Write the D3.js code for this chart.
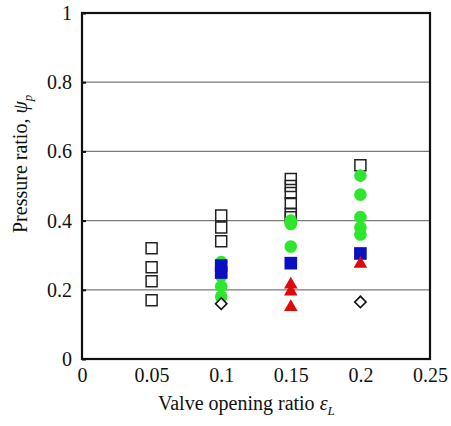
<!DOCTYPE html>
<html>
<head>
<meta charset="utf-8">
<script src="https://cdn.jsdelivr.net/npm/d3@7"></script>
<style>
  html, body { margin: 0; padding: 0; background: #fff; }
  svg text { font-family: "Liberation Serif", "DejaVu Serif", serif !important; fill: #111; }
</style>
</head>
<body>
<svg id="chart" width="451" height="426"></svg>
<script>
// Valve opening ratio positions and measured pressure ratios per condition
const openSquareX = [0.05, 0.05, 0.05, 0.05, 0.1, 0.1, 0.1, 0.15, 0.15, 0.15, 0.15, 0.15, 0.15, 0.2];
const openSquareY = [0.32, 0.265, 0.225, 0.17, 0.415, 0.38, 0.34, 0.52, 0.50, 0.48, 0.45, 0.42, 0.41, 0.56];

const greenX = [0.1, 0.1, 0.1, 0.1, 0.15, 0.15, 0.15, 0.2, 0.2, 0.2, 0.2, 0.2];
const greenY = [0.28, 0.24, 0.21, 0.18, 0.40, 0.39, 0.325, 0.53, 0.475, 0.41, 0.38, 0.36];

const blueX = [0.1, 0.1, 0.15, 0.2];
const blueY = [0.27, 0.25, 0.277, 0.305];

const redX = [0.15, 0.15, 0.15, 0.2];
const redY = [0.215, 0.195, 0.15, 0.275];

const diamondX = [0.1, 0.2];
const diamondY = [0.16, 0.165];

const xTicks = [0, 0.05, 0.1, 0.15, 0.2, 0.25];
const xTickLabels = ["0", "0.05", "0.1", "0.15", "0.2", "0.25"];
const yTicks = [0, 0.2, 0.4, 0.6, 0.8, 1];
const yTickLabels = ["0", "0.2", "0.4", "0.6", "0.8", "1"];

const margin = { left: 82, top: 13, right: 21, bottom: 67 };
const W = 451, H = 426;
const iw = W - margin.left - margin.right;
const ih = H - margin.top - margin.bottom;
const serif = "'Liberation Serif', 'DejaVu Serif', serif";

const svg = d3.select("#chart");
const g = svg.append("g").attr("transform", `translate(${margin.left},${margin.top})`);

const x = d3.scaleLinear().domain([0, 0.25]).range([0, iw]);
const y = d3.scaleLinear().domain([0, 1]).range([ih, 0]);

// horizontal grid lines
g.append("g").selectAll("line")
  .data(yTicks.filter(v => v > 0 && v < 1))
  .join("line")
  .attr("x1", 0).attr("x2", iw)
  .attr("y1", d => y(d)).attr("y2", d => y(d))
  .attr("stroke", "#7a7a7a").attr("stroke-width", 1.2);

// y axis ticks + labels
const yAxis = d3.axisLeft(y).tickValues(yTicks)
  .tickFormat((d, i) => yTickLabels[i]).tickSizeInner(-4).tickSizeOuter(0).tickPadding(10);
const yg = g.append("g").call(yAxis).attr("font-family", null);
yg.select(".domain").remove();
yg.selectAll(".tick line").attr("stroke", "#111").attr("stroke-width", 2);
yg.selectAll(".tick text").attr("font-size", 20).attr("fill", "#111")
  .style("font-family", serif);

// x axis labels
const xAxis = d3.axisBottom(x).tickValues(xTicks)
  .tickFormat((d, i) => xTickLabels[i]).tickSize(0).tickPadding(9);
const xg = g.append("g").attr("transform", `translate(0,${ih})`).call(xAxis).attr("font-family", null);
xg.select(".domain").remove();
xg.selectAll(".tick text").attr("font-size", 20).attr("fill", "#111")
  .style("font-family", serif);

// plot frame
g.append("rect").attr("x", 0).attr("y", 0).attr("width", iw).attr("height", ih)
  .attr("fill", "none").attr("stroke", "#111").attr("stroke-width", 2.2);

const pts = (xs, ys) => xs.map((v, i) => ({ x: v, y: ys[i] }));

// open squares
g.append("g").selectAll("path").data(pts(openSquareX, openSquareY)).join("path")
  .attr("d", d3.symbol(d3.symbolSquare, 121)())
  .attr("transform", d => `translate(${x(d.x)},${y(d.y)})`)
  .attr("fill", "none").attr("stroke", "#222").attr("stroke-width", 1.5);

// green circles
g.append("g").selectAll("path").data(pts(greenX, greenY)).join("path")
  .attr("d", d3.symbol(d3.symbolCircle, 125)())
  .attr("transform", d => `translate(${x(d.x)},${y(d.y)})`)
  .attr("fill", "#2ee62e");

// blue squares
g.append("g").selectAll("path").data(pts(blueX, blueY)).join("path")
  .attr("d", d3.symbol(d3.symbolSquare, 160)())
  .attr("transform", d => `translate(${x(d.x)},${y(d.y)})`)
  .attr("fill", "#0a10c0");

// red triangles
g.append("g").selectAll("path").data(pts(redX, redY)).join("path")
  .attr("d", d3.symbol(d3.symbolTriangle, 80)())
  .attr("transform", d => `translate(${x(d.x)},${y(d.y)})`)
  .attr("fill", "#dd0a0a");

// open diamonds
g.append("g").selectAll("path").data(pts(diamondX, diamondY)).join("path")
  .attr("d", d3.symbol(d3.symbolSquare, 64)())
  .attr("transform", d => `translate(${x(d.x)},${y(d.y)}) rotate(45)`)
  .attr("fill", "#fff").attr("stroke", "#111").attr("stroke-width", 1.6);

// x axis title
const xt = svg.append("text").attr("x", 158).attr("y", 410)
  .attr("font-size", 20);
xt.append("tspan").text("Valve opening ratio ");
xt.append("tspan").attr("font-style", "italic").text("ε");
xt.append("tspan").attr("font-style", "italic").attr("font-size", 13).attr("dy", 5).text("L");

// y axis title
const yt = svg.append("text")
  .attr("transform", "translate(27,233) rotate(-90)")
  .attr("font-size", 20);
yt.append("tspan").text("Pressure ratio, ");
yt.append("tspan").attr("font-style", "italic").text("ψ");
yt.append("tspan").attr("font-style", "italic").attr("font-size", 13).attr("dy", 5).text("p");
</script>
</body>
</html>
